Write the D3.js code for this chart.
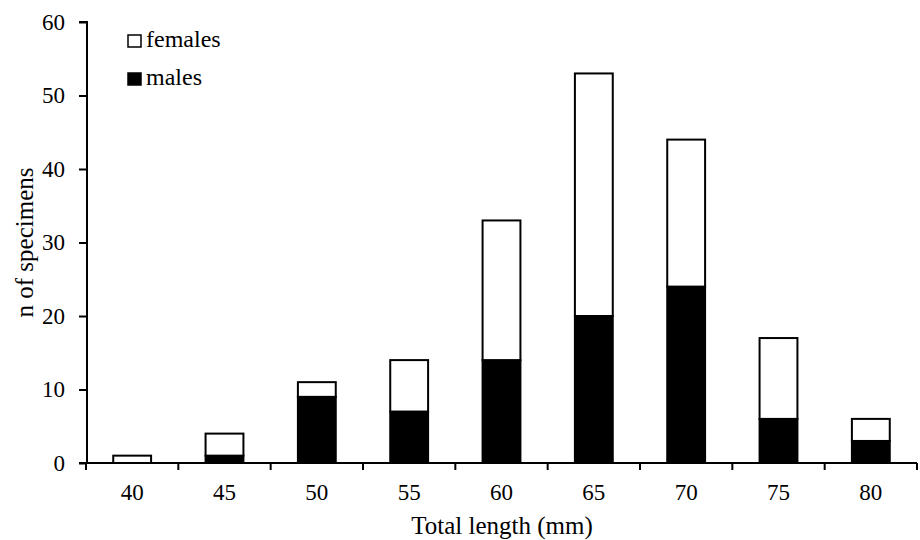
<!DOCTYPE html>
<html>
<head>
<meta charset="utf-8">
<script src="https://cdn.jsdelivr.net/npm/d3@7"></script>
<style>
  body { margin: 0; background: #fff; }
  svg { font-family: "Liberation Serif", "Times New Roman", serif; }
</style>
</head>
<body>
<div id="chart"></div>
<script>
const lengths = ['40', '45', '50', '55', '60', '65', '70', '75', '80'];
const males = [0, 1, 9, 7, 14, 20, 24, 6, 3];
const females = [1, 3, 2, 7, 19, 33, 20, 11, 3];
const yTicks = [0, 10, 20, 30, 40, 50, 60];

const width = 920, height = 540;
const margin = { top: 22, right: 3, bottom: 77, left: 87 };

const data = lengths.map((l, i) => ({ len: l, males: males[i], females: females[i] }));

const svg = d3.select('#chart').append('svg')
  .attr('width', width)
  .attr('height', height);

const x = d3.scaleBand()
  .domain(lengths)
  .range([margin.left - 1, width - margin.right])
  .paddingInner(0.59)
  .paddingOuter(0.295);

const y = d3.scaleLinear()
  .domain([0, 60])
  .range([height - margin.bottom, margin.top]);

const stacked = d3.stack().keys(['males', 'females'])(data);
const fills = { males: '#000', females: '#fff' };

svg.append('g')
  .selectAll('g')
  .data(stacked)
  .enter().append('g')
  .attr('fill', d => fills[d.key])
  .selectAll('rect')
  .data(d => d)
  .enter().append('rect')
  .attr('x', d => x(d.data.len))
  .attr('width', x.bandwidth())
  .attr('y', d => y(d[1]))
  .attr('height', d => y(d[0]) - y(d[1]))
  .attr('stroke', '#000')
  .attr('stroke-width', 2)
  .filter(d => d[1] - d[0] === 0).remove();

// x axis: ticks at category boundaries
const xAxis = svg.append('g');
const x0 = margin.left - 1, x1 = width - margin.right;
const step = x.step();
xAxis.append('line')
  .attr('x1', margin.left - 8).attr('x2', x1)
  .attr('y1', y(0)).attr('y2', y(0))
  .attr('stroke', '#000').attr('stroke-width', 2);
xAxis.selectAll('.xtick')
  .data(d3.range(lengths.length + 1))
  .enter().append('line')
  .attr('x1', i => x0 + i * step).attr('x2', i => x0 + i * step)
  .attr('y1', y(0)).attr('y2', y(0) + 7)
  .attr('stroke', '#000').attr('stroke-width', 2);
xAxis.selectAll('.xlab')
  .data(lengths)
  .enter().append('text')
  .attr('x', d => x(d) + x.bandwidth() / 2)
  .attr('y', 500)
  .attr('text-anchor', 'middle')
  .attr('font-size', 23)
  .text(d => d);

// y axis
const yAxis = svg.append('g')
  .attr('transform', `translate(${margin.left},0)`)
  .call(d3.axisLeft(y).tickValues(yTicks).tickSize(8).tickPadding(14));
yAxis.select('.domain').attr('stroke-width', 2).attr('d', `M-8,${y(60)}H0V${y(0)}`);
yAxis.selectAll('.tick line').attr('stroke-width', 2);
yAxis.selectAll('.tick text')
  .attr('font-size', 23)
  .attr('font-family', '"Liberation Serif", "Times New Roman", serif')
  .attr('fill', '#000');

svg.append('text')
  .attr('x', 502)
  .attr('y', 534)
  .attr('text-anchor', 'middle')
  .attr('font-size', 25)
  .text('Total length (mm)');

svg.append('text')
  .attr('transform', `translate(33,${(y(0) + y(60)) / 2}) rotate(-90)`)
  .attr('text-anchor', 'middle')
  .attr('font-size', 25)
  .text('n of specimens');

// legend
const legend = svg.append('g').attr('transform', 'translate(128,35)');
const legendItems = [{ key: 'females', label: 'females' }, { key: 'males', label: 'males' }];
const item = legend.selectAll('g')
  .data(legendItems)
  .enter().append('g')
  .attr('transform', (d, i) => `translate(0,${i * 38})`);
item.append('rect')
  .attr('width', 13).attr('height', 12)
  .attr('fill', d => fills[d.key])
  .attr('stroke', '#000').attr('stroke-width', 1.5);
item.append('text')
  .attr('x', 18).attr('y', 12)
  .attr('font-size', 24)
  .text(d => d.label);
</script>
</body>
</html>
